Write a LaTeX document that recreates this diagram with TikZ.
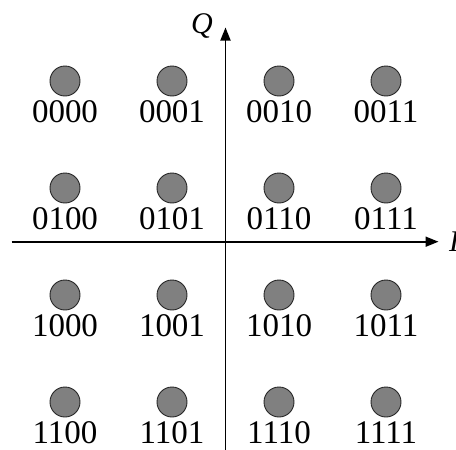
\documentclass[tikz,border=0pt]{standalone}
\usepackage{fontspec}
\setmainfont{Liberation Serif}
\usetikzlibrary{arrows.meta}
\begin{document}
\begin{tikzpicture}[x=1pt,y=-1pt,
  symbol/.style={circle,draw=black!85,line width=0.9pt,fill=black!50,minimum size=30pt,inner sep=0pt},
  bits/.style={font=\fontsize{33}{33}\selectfont,anchor=base,inner sep=0pt},
  axis/.style={line width=1.8pt,-{Triangle[length=13pt,width=10pt]}},
  axlabel/.style={font=\fontsize{30}{30}\selectfont\itshape,inner sep=0pt}]
\useasboundingbox (0,0) rectangle (456,450);
% 16-QAM constellation, binary labels in row-major order
\foreach \r in {0,1,2,3}{
  \foreach \c in {0,1,2,3}{
    \pgfmathtruncatemacro{\idx}{4*\r+\c}
    \pgfmathsetmacro{\xx}{65+107*\c}
    \pgfmathsetmacro{\yy}{81+107*\r}
    \node[symbol] (p\idx) at (\xx,\yy) {};
    \pgfmathtruncatemacro{\bA}{\r/2}
    \pgfmathtruncatemacro{\bB}{mod(\r,2)}
    \pgfmathtruncatemacro{\bC}{\c/2}
    \pgfmathtruncatemacro{\bD}{mod(\c,2)}
    \node[bits] (t\idx) at (\xx,\yy+41) {\bA\bB\bC\bD};
  }
}
% in-phase and quadrature axes
\coordinate (xl) at (11.5,241.7);
\coordinate (xr) at (438.5,241.7);
\coordinate (yb) at (225.5,452);
\coordinate (yt) at (225.5,27.5);
\draw[axis] (xl) -- (xr);
\draw[axis] (yb) -- (yt);
\node[axlabel,anchor=west] (I) at (449,242) {I};
\node[axlabel] (Q) at (202,26) {Q};
\end{tikzpicture}
\end{document}
